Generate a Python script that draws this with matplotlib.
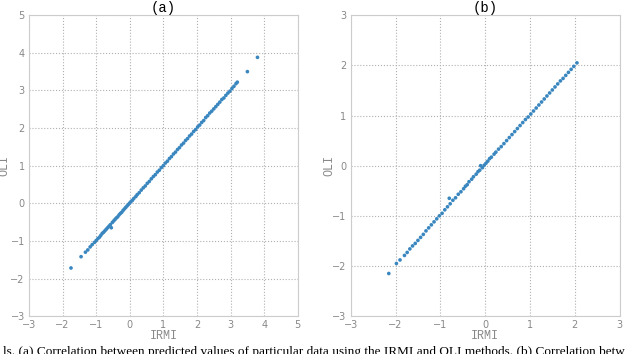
import matplotlib.pyplot as plt

# Panel (a): IRMI vs OLI predicted values
irmi_a = [-1.75, -1.45, -1.32, -1.25, -1.18, -1.12, -1.05, -1.0, -0.95, -0.9,
          -0.86, -0.82, -0.78, -0.74, -0.7, -0.66, -0.62, -0.55, -0.58, -0.52,
          -0.48, -0.44, -0.4, -0.36, -0.32, -0.28, -0.24, -0.2, -0.16, -0.12,
          -0.08, -0.04, 0.0, 0.04, 0.08, 0.12, 0.18, 0.22, 0.28, 0.34, 0.4,
          0.46, 0.52, 0.58, 0.64, 0.7, 0.76, 0.82, 0.88, 0.94, 1.0, 1.06,
          1.12, 1.18, 1.24, 1.3, 1.36, 1.42, 1.48, 1.54, 1.6, 1.66, 1.72,
          1.78, 1.84, 1.9, 1.96, 2.02, 2.08, 2.14, 2.2, 2.26, 2.32, 2.38,
          2.44, 2.5, 2.56, 2.62, 2.68, 2.74, 2.8, 2.86, 2.92, 2.98, 3.04,
          3.1, 3.16, 3.2, 3.5, 3.8]
oli_a = [-1.72, -1.42, -1.3, -1.24, -1.16, -1.1, -1.04, -0.99, -0.94, -0.9,
         -0.85, -0.8, -0.77, -0.73, -0.69, -0.65, -0.61, -0.65, -0.57, -0.51,
         -0.47, -0.43, -0.39, -0.36, -0.31, -0.27, -0.24, -0.19, -0.15, -0.11,
         -0.07, -0.03, 0.01, 0.05, 0.08, 0.13, 0.18, 0.23, 0.28, 0.35, 0.41,
         0.46, 0.53, 0.58, 0.65, 0.71, 0.76, 0.83, 0.88, 0.95, 1.0, 1.07,
         1.12, 1.19, 1.24, 1.31, 1.36, 1.43, 1.48, 1.55, 1.6, 1.67, 1.72,
         1.79, 1.84, 1.91, 1.96, 2.03, 2.08, 2.15, 2.2, 2.28, 2.33, 2.4,
         2.45, 2.51, 2.57, 2.63, 2.69, 2.76, 2.8, 2.87, 2.93, 2.98, 3.05,
         3.11, 3.18, 3.22, 3.5, 3.88]

# Panel (b)
irmi_b = [-2.15, -1.98, -1.9, -1.8, -1.74, -1.68, -1.62, -1.56, -1.5, -1.44,
          -1.38, -1.32, -1.26, -1.2, -1.14, -1.08, -1.02, -0.96, -0.9, -0.84,
          -0.8, -0.78, -0.72, -0.66, -0.6, -0.54, -0.48, -0.44, -0.4, -0.36,
          -0.3, -0.26, -0.2, -0.16, -0.1, -0.12, -0.06, -0.02, 0.02, 0.06,
          0.1, 0.14, 0.2, 0.24, 0.3, 0.36, 0.42, 0.48, 0.54, 0.6, 0.66, 0.72,
          0.78, 0.84, 0.9, 0.96, 1.02, 1.08, 1.14, 1.2, 1.26, 1.32, 1.38,
          1.44, 1.5, 1.56, 1.62, 1.68, 1.74, 1.8, 1.86, 1.92, 1.98, 2.05]
oli_b = [-2.15, -1.95, -1.88, -1.79, -1.73, -1.66, -1.6, -1.55, -1.49, -1.43,
         -1.37, -1.3, -1.24, -1.18, -1.12, -1.06, -1.0, -0.95, -0.88, -0.82,
         -0.65, -0.76, -0.69, -0.64, -0.57, -0.52, -0.46, -0.41, -0.38, -0.32,
         -0.27, -0.22, -0.17, -0.12, 0.0, -0.09, -0.04, 0.01, 0.05, 0.09,
         0.14, 0.17, 0.23, 0.27, 0.33, 0.38, 0.44, 0.5, 0.56, 0.62, 0.68,
         0.74, 0.8, 0.86, 0.92, 0.97, 1.03, 1.09, 1.15, 1.21, 1.27, 1.33,
         1.39, 1.45, 1.51, 1.57, 1.63, 1.69, 1.74, 1.8, 1.86, 1.92, 1.98, 2.05]

ticks_a = [-3, -2, -1, 0, 1, 2, 3, 4, 5]
ticks_b = [-3, -2, -1, 0, 1, 2, 3]

caption = ('ls. (a) Correlation between predicted values of particular data '
           'using the IRMI and OLI methods. (b) Correlation betw')

mono = 'Liberation Mono'
gray = '#888888'

fig = plt.figure(figsize=(6.4, 3.54), dpi=100)
ax_a = fig.add_axes([0.0453, 0.107, 0.420, 0.850])
ax_b = fig.add_axes([0.548, 0.107, 0.420, 0.850])

panels = [(ax_a, irmi_a, oli_a, ticks_a, '(a)', -0.068),
          (ax_b, irmi_b, oli_b, ticks_b, '(b)', -0.056)]
for ax, x, y, ticks, title, ylab_x in panels:
    ax.scatter(x, y, s=7, c='#3a87c0', edgecolors='none', zorder=3)
    ax.set_xlim(ticks[0], ticks[-1])
    ax.set_ylim(ticks[0], ticks[-1])
    ax.set_xticks(ticks)
    ax.set_yticks(ticks)
    ax.grid(True, ls=':', c='#b0b0b0', lw=0.8)
    ax.set_axisbelow(True)
    for s in ax.spines.values():
        s.set_color('#cccccc')
    ax.tick_params(length=0, labelsize=7, colors=gray, pad=3)
    ax.set_xlabel('IRMI', family=mono, fontsize=8.5, color=gray, labelpad=0)
    ax.set_ylabel('OLI', family=mono, fontsize=8.5, color=gray)
    ax.yaxis.set_label_coords(ylab_x, 0.5)
    ax.set_title(title, family=mono, fontsize=10, pad=2)

fig.text(0.005, -0.012, caption, family='Liberation Serif', fontsize=9.5,
         va='bottom', ha='left')

fig.savefig('out.png', dpi=100)
